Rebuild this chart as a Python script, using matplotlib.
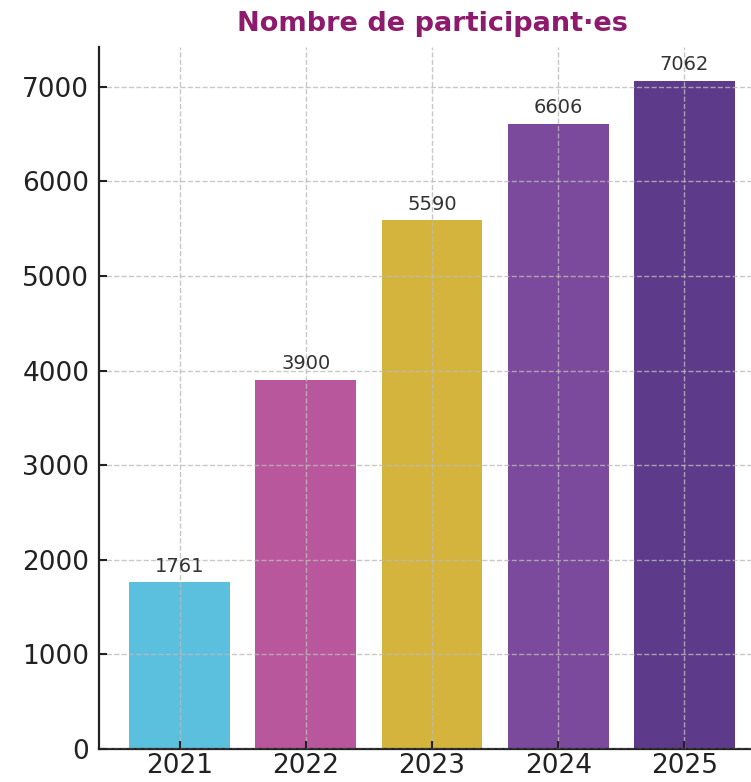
import matplotlib.pyplot as plt

years = ["2021", "2022", "2023", "2024", "2025"]
participants = [1761, 3900, 5590, 6606, 7062]
bar_colors = ["#5BC0DE", "#B9579C", "#D4B43C", "#7B4A9C", "#5E3A8A"]

plt.rcParams['font.family'] = 'DejaVu Sans'

fig = plt.figure(figsize=(7.51, 7.82), dpi=100)
# axes run off the right edge like the cropped original
ax = fig.add_axes([99 / 751, 33 / 782, 666 / 751, 702 / 782])

bars = ax.bar(years, participants, color=bar_colors, width=0.8)
for b, v in zip(bars, participants):
    ax.text(b.get_x() + b.get_width() / 2, v + 70, str(v), ha='center', va='bottom',
            fontsize=14, color='#333333')

ax.set_xlim(-0.64, 4.64)
ax.set_ylim(0, 7420)
ax.set_yticks(range(0, 8000, 1000))
ax.grid(True, linestyle='--', color='#bbbbbb', linewidth=1, alpha=0.8)
ax.set_axisbelow(False)

for s in ['top', 'right']:
    ax.spines[s].set_visible(False)
for s in ['left', 'bottom']:
    ax.spines[s].set_linewidth(1.6)
    ax.spines[s].set_color('#222222')

ax.tick_params(direction='in', length=6, width=1.5, labelsize=19, colors='#222222', pad=7)
ax.tick_params(axis='x', pad=3)

fig.text(432 / 751, 1 - 24 / 782, "Nombre de participant·es", ha='center', va='center',
         fontsize=19.5, fontweight='bold', color='#8E1A6E')

fig.savefig("out.png", dpi=100)
